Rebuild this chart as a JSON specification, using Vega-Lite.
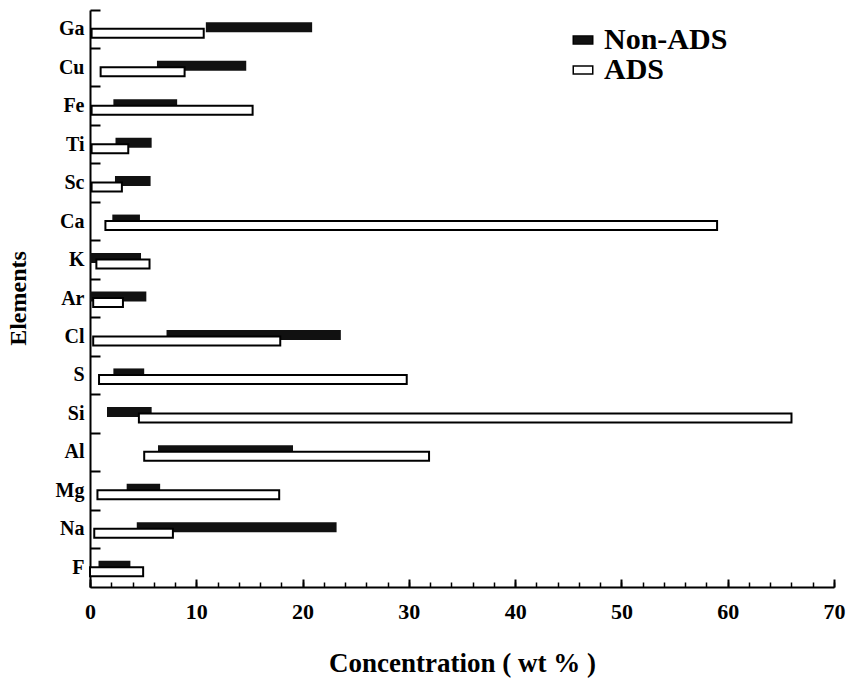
{
  "$schema": "https://vega.github.io/schema/vega-lite/v6.json",
  "width": 744,
  "height": 577,
  "autosize": {"type": "none"},
  "padding": {"left": 90, "top": 10, "right": 15, "bottom": 96},
  "background": "white",
  "config": {"view": {"stroke": null}, "font": "Liberation Serif"},
  "data": {
    "values": [
      {"element": "Ga", "series": "Non-ADS", "start": 10.9, "end": 20.9},
      {"element": "Cu", "series": "Non-ADS", "start": 6.3, "end": 14.7},
      {"element": "Fe", "series": "Non-ADS", "start": 2.2, "end": 8.2},
      {"element": "Ti", "series": "Non-ADS", "start": 2.4, "end": 5.8},
      {"element": "Sc", "series": "Non-ADS", "start": 2.35, "end": 5.7},
      {"element": "Ca", "series": "Non-ADS", "start": 2.1, "end": 4.7},
      {"element": "K", "series": "Non-ADS", "start": 0, "end": 4.8},
      {"element": "Ar", "series": "Non-ADS", "start": 0, "end": 5.3},
      {"element": "Cl", "series": "Non-ADS", "start": 7.2, "end": 23.6},
      {"element": "S", "series": "Non-ADS", "start": 2.2, "end": 5.1},
      {"element": "Si", "series": "Non-ADS", "start": 1.6, "end": 5.8},
      {"element": "Al", "series": "Non-ADS", "start": 6.4, "end": 19.1},
      {"element": "Mg", "series": "Non-ADS", "start": 3.45, "end": 6.6},
      {"element": "Na", "series": "Non-ADS", "start": 4.4, "end": 23.2},
      {"element": "F", "series": "Non-ADS", "start": 0.8, "end": 3.8},
      {"element": "Ga", "series": "ADS", "start": 0.15, "end": 10.7},
      {"element": "Cu", "series": "ADS", "start": 1.0, "end": 8.9},
      {"element": "Fe", "series": "ADS", "start": 0.15, "end": 15.3},
      {"element": "Ti", "series": "ADS", "start": 0.15, "end": 3.6},
      {"element": "Sc", "series": "ADS", "start": 0.15, "end": 3.0},
      {"element": "Ca", "series": "ADS", "start": 1.45, "end": 59.0},
      {"element": "K", "series": "ADS", "start": 0.6, "end": 5.6},
      {"element": "Ar", "series": "ADS", "start": 0.3, "end": 3.1},
      {"element": "Cl", "series": "ADS", "start": 0.3, "end": 17.9},
      {"element": "S", "series": "ADS", "start": 0.85, "end": 29.8},
      {"element": "Si", "series": "ADS", "start": 4.6, "end": 66.0},
      {"element": "Al", "series": "ADS", "start": 5.1, "end": 31.9},
      {"element": "Mg", "series": "ADS", "start": 0.7, "end": 17.8},
      {"element": "Na", "series": "ADS", "start": 0.4, "end": 7.8},
      {"element": "F", "series": "ADS", "start": 0, "end": 5.0}
    ]
  },
  "layer": [
    {
      "transform": [{"filter": "datum.series === 'Non-ADS'"}],
      "mark": {"type": "bar", "height": 10, "yOffset": -2},
      "encoding": {
        "y": {
          "field": "element",
          "type": "nominal",
          "sort": ["Ga", "Cu", "Fe", "Ti", "Sc", "Ca", "K", "Ar", "Cl", "S", "Si", "Al", "Mg", "Na", "F"],
          "scale": {"paddingInner": 0, "paddingOuter": 0},
          "axis": {
            "orient": "left",
            "title": "Elements",
            "titleFont": "Liberation Serif",
            "titleFontSize": 24,
            "titleFontWeight": "bold",
            "titleColor": "black",
            "titleX": -65,
            "titleY": 288,
            "titleBaseline": "alphabetic",
            "titleAngle": -90,
            "labelFont": "Liberation Serif",
            "labelFontSize": 20,
            "labelFontWeight": "bold",
            "labelColor": "black",
            "labelPadding": 6,
            "ticks": false,
            "domainColor": "black",
            "domainWidth": 2,
            "grid": false
          }
        },
        "x": {
          "field": "start",
          "type": "quantitative",
          "scale": {"domain": [0, 70], "nice": false},
          "axis": {
            "orient": "top",
            "offset": -577,
            "title": "Concentration ( wt % )",
            "titleFont": "Liberation Serif",
            "titleFontSize": 27,
            "titleFontWeight": "bold",
            "titleColor": "black",
            "titleX": 372,
            "titleY": 84,
            "titleBaseline": "alphabetic",
            "values": [0, 10, 20, 30, 40, 50, 60, 70],
            "labelFont": "Liberation Serif",
            "labelFontSize": 22,
            "labelFontWeight": "bold",
            "labelColor": "black",
            "labelBaseline": "top",
            "labelPadding": -22,
            "labelFlush": false,
            "labelOverlap": false,
            "domainColor": "black",
            "domainWidth": 2,
            "tickColor": "black",
            "tickWidth": 2,
            "tickSize": 8,
            "grid": false
          }
        },
        "x2": {"field": "end"},
        "fill": {
          "field": "series",
          "type": "nominal",
          "scale": {"domain": ["Non-ADS", "ADS"], "range": ["#111111", "#ffffff"]},
          "legend": {
            "orient": "none",
            "legendX": 478,
            "legendY": 15,
            "title": null,
            "padding": 0,
            "labelFont": "Liberation Serif",
            "labelFontSize": 30,
            "labelFontWeight": "bold",
            "labelColor": "black",
            "labelOffset": 6,
            "symbolType": "M-1,-0.4H1V0.4H-1Z",
            "symbolSize": 380,
            "symbolStrokeColor": "black",
            "symbolStrokeWidth": 1.5,
            "rowPadding": 0
          }
        }
      }
    },
    {
      "transform": [{"filter": "datum.series === 'ADS'"}],
      "mark": {"type": "bar", "height": 9, "yOffset": 4, "stroke": "black", "strokeWidth": 2},
      "encoding": {
        "y": {
          "field": "element",
          "type": "nominal",
          "sort": ["Ga", "Cu", "Fe", "Ti", "Sc", "Ca", "K", "Ar", "Cl", "S", "Si", "Al", "Mg", "Na", "F"],
          "scale": {"paddingInner": 0, "paddingOuter": 0},
          "axis": {
            "orient": "right",
            "offset": -744,
            "title": null,
            "labels": false,
            "domain": false,
            "bandPosition": 0,
            "tickColor": "black",
            "tickWidth": 2,
            "tickSize": 10,
            "grid": false
          }
        },
        "x": {
          "field": "start",
          "type": "quantitative",
          "scale": {"domain": [0, 70], "nice": false},
          "axis": {
            "orient": "top",
            "offset": -577,
            "title": null,
            "labels": false,
            "domain": false,
            "values": [0, 2, 4, 6, 8, 10, 12, 14, 16, 18, 20, 22, 24, 26, 28, 30, 32, 34, 36, 38, 40, 42, 44, 46, 48, 50, 52, 54, 56, 58, 60, 62, 64, 66, 68, 70],
            "tickColor": "black",
            "tickWidth": 1.5,
            "tickSize": 5,
            "grid": false
          }
        },
        "x2": {"field": "end"},
        "fill": {"field": "series", "type": "nominal"}
      }
    }
  ],
  "resolve": {
    "scale": {"x": "independent", "y": "independent"},
    "axis": {"x": "independent", "y": "independent"}
  }
}
